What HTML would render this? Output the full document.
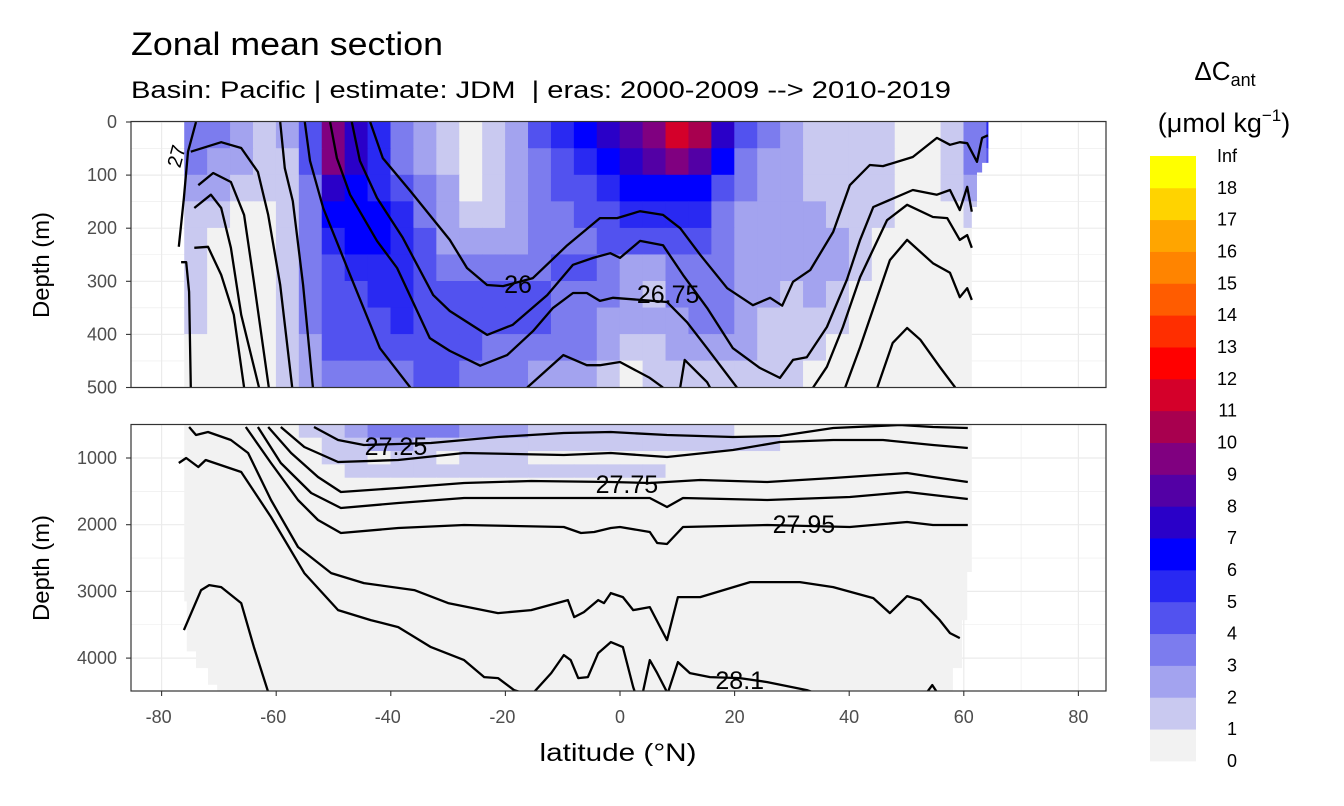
<!DOCTYPE html>
<html><head><meta charset="utf-8"><style>
html,body{margin:0;padding:0;background:#fff;}
svg{display:block;font-family:"Liberation Sans",Arial,sans-serif;}
</style></head><body>
<svg id="chart" width="1344" height="806" viewBox="0 0 1344 806" xmlns="http://www.w3.org/2000/svg">
<defs>
<clipPath id="clipTopPanel"><rect x="131" y="121.5" width="975" height="266"/></clipPath>
<clipPath id="clipBotPanel"><rect x="131" y="424.5" width="975" height="266.5"/></clipPath>
<clipPath id="clipTopData"><polygon id="maskTop"/></clipPath>
<clipPath id="clipBotData"><polygon id="maskBot"/></clipPath>
</defs>
<text x="131" y="55" font-size="32" textLength="312" lengthAdjust="spacingAndGlyphs" fill="#000">Zonal mean section</text>
<text x="131" y="98" font-size="24" textLength="820" lengthAdjust="spacingAndGlyphs" fill="#000">Basin: Pacific | estimate: JDM&#160; | eras: 2000-2009 --&gt; 2010-2019</text>
<g id="topPanel"></g>
<g id="botPanel"></g>
<g id="axes"></g>
<text x="618" y="761" font-size="25" textLength="157" lengthAdjust="spacingAndGlyphs" text-anchor="middle" fill="#000">latitude (°N)</text>
<text transform="translate(49,265) rotate(-90)" font-size="23" textLength="106" lengthAdjust="spacingAndGlyphs" text-anchor="middle" fill="#000">Depth (m)</text>
<text transform="translate(49,568) rotate(-90)" font-size="23" textLength="106" lengthAdjust="spacingAndGlyphs" text-anchor="middle" fill="#000">Depth (m)</text>
<g id="legend">
<text x="1225" y="80" font-size="26" text-anchor="middle">ΔC<tspan font-size="18" dy="6">ant</tspan></text>
<text x="1224" y="132" font-size="27" text-anchor="middle">(μmol kg<tspan font-size="17" dy="-11">−1</tspan><tspan dy="11">)</tspan></text>
</g>
</svg>
<script>
const NS="http://www.w3.org/2000/svg";
const latCols=[-76,-72,-68,-64,-60,-56,-52,-48,-44,-40,-36,-32,-28,-24,-20,-16,-12,-8,-4,0,4,8,12,16,20,24,28,32,36,40,44,48,52,56,60,64];
const topRowEdges=[0,50,100,150,200,250,300,350,400,450,500];
const valuesTop=[
[3,3,2,1,2,4,9,7,5,3,2,1,0,1,2,4,5,6,7,8,9,11,10,7,4,3,2,1,1,1,1,0,0,1,3,5],
[3,2,2,1,1,4,9,7,5,3,2,1,0,1,2,3,4,5,6,7,8,9,8,6,3,2,2,1,1,1,1,0,0,1,3,4],
[2,2,1,1,1,3,7,6,5,4,3,2,0,1,2,3,4,4,5,6,6,6,6,4,3,2,2,1,1,1,1,0,0,1,2,3],
[1,1,0,0,1,3,6,6,6,5,3,2,1,1,2,3,3,4,4,5,5,5,5,3,2,2,2,2,1,1,1,0,0,0,1,0],
[1,0,0,0,1,3,5,6,6,5,4,2,2,2,2,3,3,3,4,4,4,4,4,3,2,2,2,2,2,1,0,0,0,0,0,0],
[1,0,0,0,1,3,4,5,5,5,4,3,3,3,3,3,4,4,3,2,2,3,3,3,2,2,2,2,2,1,0,0,0,0,0,0],
[1,0,0,0,1,3,4,4,5,5,4,4,4,4,4,4,3,3,3,2,1,3,3,3,2,2,1,2,1,0,0,0,0,0,0,0],
[1,0,0,0,1,3,4,4,4,5,4,4,4,4,4,4,3,3,2,2,2,2,3,3,2,1,1,1,1,0,0,0,0,0,0,0],
[0,0,0,0,1,2,4,4,4,4,4,4,4,3,3,3,3,3,2,1,1,2,2,2,2,1,1,1,0,0,0,0,0,0,0,0],
[0,0,0,0,1,2,3,3,3,3,4,4,3,3,3,2,2,2,1,0,1,1,1,1,1,1,1,0,0,0,0,0,0,0,0,0]];
const botRowEdges=[500,700,900,1100,1300,1500,4500];
const valuesBot=[
[0,0,0,0,0,1,1,2,3,3,3,3,2,2,2,1,1,1,1,1,1,1,1,1,0,0,0,0,0,0,0,0,0,0,0,0],
[0,0,0,0,0,0,1,1,2,2,1,1,1,1,1,1,1,1,1,1,1,1,1,1,1,1,0,0,0,0,0,0,0,0,0,0],
[0,0,0,0,0,0,1,1,0,1,1,0,1,1,1,0,0,0,0,0,0,0,0,0,0,0,0,0,0,0,0,0,0,0,0,0],
[0,0,0,0,0,0,0,1,1,1,1,1,1,1,1,1,1,1,1,1,1,0,0,0,0,0,0,0,0,0,0,0,0,0,0,0],
[0,0,0,0,0,0,0,0,0,0,0,0,0,0,0,0,0,0,0,0,0,0,0,0,0,0,0,0,0,0,0,0,0,0,0,0],
[0,0,0,0,0,0,0,0,0,0,0,0,0,0,0,0,0,0,0,0,0,0,0,0,0,0,0,0,0,0,0,0,0,0,0,0]];
const topMaskPts=[[-76.5,0],[64.3,0],[64.3,77],[63.2,77],[63.2,95],[62.3,95],[62.3,160],[61.4,160],[61.4,500],[-76.5,500]];
const botMaskPts=[[-76.8,500],[61.4,500],[61.4,2710],[60.6,2710],[60.6,3430],[59.7,3430],[59.7,4150],[58.1,4150],[58.1,4500],[-70.3,4500],[-70.3,4400],[-71.9,4400],[-71.9,4150],[-74,4150],[-74,3900],[-75.6,3900],[-75.6,3150],[-76.8,3150]];
const binColors=["#F2F2F2","#C9C9F0","#A3A3EF","#7C7CEE","#5252EF","#2929F2","#0000FF","#2A00C8","#5300A5","#800080","#A8004F","#D4002A","#FF0000","#FF2E00","#FF5C00","#FF8400","#FFA500","#FFD300","#FFFF00"];
const legendLabels=["0","1","2","3","4","5","6","7","8","9","10","11","12","13","14","15","16","17","18","Inf"];
const xTicks=[-80,-60,-40,-20,0,20,40,60,80];
const yTicksTop=[0,100,200,300,400,500];
const yTicksBot=[1000,2000,3000,4000];
const contoursTop=[
[[-74.9,56],[-69.6,38],[-66.1,49],[-63.2,94],[-61.4,175],[-59.3,307],[-57.2,500]],
[[-73.6,119],[-71,96],[-67.9,113],[-65.6,175],[-63.9,301],[-61.3,500]],
[[-74.3,162],[-71.4,137],[-69.6,162],[-67.9,237],[-66.1,363],[-63,500]],
[[-74.3,237],[-71.9,235],[-69.6,288],[-67.4,363],[-65.6,500]],
[[-76.6,264],[-75.7,264],[-75.2,320],[-74.9,500]],
[[-77,235],[-76.1,143],[-75.4,56],[-74,0]],
[[-59.3,0],[-58.5,87],[-57.1,149],[-55.3,307],[-53.6,500]],
[[-55,0],[-54.1,73],[-51.8,162],[-47.1,288],[-41.9,426],[-36.6,500]],
[[-50.6,0],[-49.4,68],[-47.1,137],[-42.4,224],[-38.9,275],[-33.2,407],[-29.7,431],[-24.4,459],[-19.7,439],[-15.2,394],[-11.7,350],[-8.2,322],[-5.8,322],[-3.5,337],[-1.2,331],[3.5,335],[8.2,339],[11.7,377],[15.2,426],[19.7,490],[20.4,500]],
[[-46.8,0],[-45.4,73],[-42.4,143],[-37.9,218],[-32.6,326],[-29.7,356],[-23.2,401],[-18.7,382],[-12.7,326],[-8.2,269],[-4.7,256],[-1.7,247],[0,256],[3.5,224],[7.5,232],[11,288],[15.2,350],[19.7,426],[24.4,463],[27.9,482],[30.2,448],[32.6,443],[36.1,386],[39.6,297],[41.9,222],[44.2,160],[51.1,128],[55.3,137],[57.6,128],[59.3,166],[60.6,122],[61.4,169]],
[[-43.6,0],[-41.4,68],[-36.6,130],[-29.7,222],[-26.7,275],[-23.2,307],[-20.4,309],[-15.2,294],[-9.2,232],[-3.5,181],[-0.5,181],[3.5,168],[7.5,175],[10.5,200],[14,250],[18.7,313],[23.2,345],[26.2,331],[28.3,346],[30.2,301],[33.2,279],[37.2,207],[40.1,119],[43.6,81],[45.9,83],[51.1,66],[55.3,30],[57.6,43],[59.3,38],[60.6,40],[62.3,75],[63.2,30],[64.2,25]],
[[-16.2,500],[-9.9,439],[-5.8,458],[-3.5,458],[0,452],[5.2,482],[7.5,500]],
[[10.5,500],[11.3,448],[15.2,490],[15.7,500]],
[[33.7,500],[36.1,461],[38.9,386],[41.9,292],[46.6,185],[50.1,156],[54.6,179],[57.1,181],[59.3,222],[60.6,213],[61.4,237]],
[[39.3,500],[41.9,424],[47.1,260],[50.1,222],[54.6,266],[57.6,284],[59.3,330],[60.6,313],[61.4,335]],
[[44.9,500],[47.6,416],[50.1,388],[52.4,410],[55.8,461],[58.5,500]]];
const contoursBot=[
[[-53.4,535],[-49.2,730],[-44.7,805],[-33,775],[-21.3,685],[-9.8,625],[-1.6,610],[8.2,655],[19.7,685],[27.9,670],[37.2,550],[48.9,505],[54.6,535],[60.7,550]],
[[-59.2,535],[-55.1,835],[-49.2,1060],[-38.7,1030],[-27.2,925],[-9.8,955],[-1.6,925],[8.2,985],[19.7,880],[27.9,760],[37.2,730],[45.9,730],[54.6,805],[60.7,850]],
[[-61.4,535],[-57.4,925],[-52.7,1285],[-48.7,1510],[-38.7,1450],[-27.2,1375],[-15.5,1345],[-1.6,1360],[5.2,1375],[14,1330],[25.7,1360],[37.2,1300],[50.1,1225],[54.6,1285],[60.7,1360]],
[[-63.2,535],[-59.2,1075],[-53.9,1525],[-48.7,1750],[-38.7,1675],[-27.2,1600],[-1.6,1600],[5.2,1600],[8.2,1735],[11,1600],[25.7,1630],[40.1,1585],[50.1,1510],[54.6,1555],[60.7,1615]],
[[-65.3,535],[-60.9,1075],[-56.2,1630],[-52.7,1930],[-48.7,2125],[-38.7,2050],[-27.2,2005],[-9.8,2035],[-6.8,2125],[-4.5,2110],[-1.6,2050],[0,2035],[5.2,2110],[6.5,2275],[8.2,2290],[11,2035],[25.7,2005],[40.1,2035],[50.1,1960],[54.6,2005],[60.7,2005]],
[[-75.2,535],[-74,655],[-71.9,610],[-67.9,730],[-64.9,925],[-60.9,1630],[-56.2,2335],[-50.4,2725],[-44.7,2875],[-35.9,2980],[-30,3175],[-21.3,3325],[-15.5,3280],[-9.1,3130],[-8,3385],[-6.3,3310],[-3.8,3130],[-2.8,3175],[-1.6,3025],[0.5,3085],[2.3,3280],[5.2,3235],[8.2,3730],[10.1,3085],[14,3085],[22.7,2860],[31.4,2860],[37.2,2935],[44.2,3100],[47.1,3325],[50.1,3070],[52.4,3130],[55.8,3430],[57.6,3625],[59.3,3700]],
[[-77,1075],[-75.7,1000],[-73.6,1135],[-72.3,1030],[-66.1,1210],[-60.9,1885],[-55.1,2725],[-49.2,3280],[-43.5,3430],[-38.7,3535],[-33,3835],[-27.2,4030],[-23.7,4285],[-21.3,4300],[-18.5,4480],[-17,4520]],
[[-15,4510],[-12,4225],[-9.8,3955],[-8.6,4030],[-7.3,4300],[-5.6,4285],[-3.8,3925],[-1.6,3760],[0.5,3835],[2.3,4435],[2.6,4510]],
[[4,4510],[5.2,4030],[6.5,4225],[8.2,4510]],
[[8.4,4510],[10.1,4060],[12.2,4225],[15.7,4285],[20.9,4300],[25.7,4360],[32.6,4480],[34,4520]],
[[-76.1,3580],[-73.1,2980],[-71.7,2905],[-69.6,2935],[-66.1,3175],[-63.9,3835],[-61.4,4510]],
[[53.6,4510],[54.5,4405],[55.3,4510]]];
const labelsTop=[["26",-17.8,305],["26.75",8.4,324]];
const labelsBot=[["27.25",-39.1,820],["27.75",1.2,1390],["27.95",32.1,1990],["28.1",20.9,4330]];

const X=lat=>620+lat*5.73;
const YT=d=>122+d*0.531;
const YB=d=>458+(d-1000)*0.0667;
function mk(tag,attrs,parent){const e=document.createElementNS(NS,tag);for(const k in attrs)e.setAttribute(k,attrs[k]);parent.appendChild(e);return e;}
function binColor(v){let i=Math.floor(v);if(i<0)i=0;if(i>18)i=18;return binColors[i];}

function drawGrid(g,Y,yMajor,yMinor){
  for(let lat=-70;lat<=70;lat+=20){const l=mk('line',{x1:X(lat),x2:X(lat),y1:Y.top,y2:Y.bot,stroke:'#EBEBEB','stroke-width':0.6},g);
    }
  yMinor.forEach(d=>{const l=mk('line',{x1:131,x2:1106,y1:Y.f(d),y2:Y.f(d),stroke:'#EBEBEB','stroke-width':0.6},g);
    });
  xTicks.forEach(lat=>{const l=mk('line',{x1:X(lat),x2:X(lat),y1:Y.top,y2:Y.bot,stroke:'#EBEBEB','stroke-width':1.2},g);
    });
  yMajor.forEach(d=>{const l=mk('line',{x1:131,x2:1106,y1:Y.f(d),y2:Y.f(d),stroke:'#EBEBEB','stroke-width':1.2},g);
    });
}
function drawPanel(g,clipPanel,clipData,maskId,maskPts,Yf,rowEdges,values,contours,labels,top,bot,yMajor,yMinor,name){
  mk('rect',{x:131,y:top,width:975,height:bot-top,fill:'#fff'},g);
  drawGrid(g,{top:top,bot:bot,f:Yf},yMajor,yMinor);
  document.getElementById(maskId).setAttribute('points',maskPts.map(p=>X(p[0])+','+Yf(p[1])).join(' '));
  const hg=mk('g',{'clip-path':'url(#'+clipData+')'},g);
  
  
  for(let r=0;r<values.length;r++){
    for(let c=0;c<latCols.length;c++){
      const v=values[r][c];if(v===null)continue;
      const x0=X(latCols[c]),x1=X(latCols[c]+4),y0=Yf(rowEdges[r]),y1=Yf(rowEdges[r+1]);
      const cell=mk('rect',{x:x0-0.3,y:y0-0.3,width:x1-x0+0.6,height:y1-y0+0.6,fill:binColor(v)},hg);
      
      
    }
  }
  const cg=mk('g',{'clip-path':'url(#'+clipPanel+')'},g);
  contours.forEach(pts=>{
    const p=mk('polyline',{points:pts.map(q=>X(q[0]).toFixed(1)+','+Yf(q[1]).toFixed(1)).join(' '),fill:'none',stroke:'#000','stroke-width':2.3,'stroke-linejoin':'round'},cg);
    
    
  });
  labels.forEach(l=>{
    const t=mk('text',{x:X(l[1]),y:Yf(l[2])+9,'font-size':25,'text-anchor':'middle',fill:'#000'},cg);
    t.textContent=l[0];
    
    
  });
  const b=mk('rect',{x:131,y:top,width:975,height:bot-top,fill:'none',stroke:'#333','stroke-width':1.2},g);
  
  
}
drawPanel(document.getElementById('topPanel'),'clipTopPanel','clipTopData','maskTop',topMaskPts,YT,topRowEdges,valuesTop,contoursTop,labelsTop,121.5,387.5,[0,100,200,300,400,500],[50,150,250,350,450],'upper-panel');
drawPanel(document.getElementById('botPanel'),'clipBotPanel','clipBotData','maskBot',botMaskPts,YB,botRowEdges,valuesBot,contoursBot,labelsBot,424.5,691,[1000,2000,3000,4000],[1500,2500,3500],'lower-panel');

(function(){const t=mk('text',{transform:'translate(183,158) rotate(-75)','font-size':20,'text-anchor':'middle',fill:'#000'},document.getElementById('topPanel'));
t.textContent='27';

})();

const ax=document.getElementById('axes');
yTicksTop.forEach(d=>{
  mk('line',{x1:126,x2:131,y1:YT(d),y2:YT(d),stroke:'#333','stroke-width':1.1},ax);
  const t=mk('text',{x:117,y:YT(d)+6,'font-size':18,'text-anchor':'end',fill:'#4D4D4D'},ax);
  t.textContent=d;
  
  
});
yTicksBot.forEach(d=>{
  mk('line',{x1:126,x2:131,y1:YB(d),y2:YB(d),stroke:'#333','stroke-width':1.1},ax);
  const t=mk('text',{x:117,y:YB(d)+6,'font-size':18,'text-anchor':'end',fill:'#4D4D4D'},ax);
  t.textContent=d;
  
  
});
xTicks.forEach(lat=>{
  mk('line',{x1:X(lat),x2:X(lat),y1:691,y2:696,stroke:'#333','stroke-width':1.1},ax);
  const t=mk('text',{x:X(lat)-(lat<0?3:0),y:723,'font-size':18,'text-anchor':'middle',fill:'#4D4D4D'},ax);
  t.textContent=lat;
  
  
});

const lg=document.getElementById('legend');
const barTop=156,barBot=761,binH=(barBot-barTop)/binColors.length;
binColors.forEach((c,i)=>{
  const r=mk('rect',{x:1150,y:barBot-(i+1)*binH,width:46,height:binH+0.4,fill:c},lg);
  
  
});
legendLabels.forEach((s,i)=>{
  const t=mk('text',{x:1237,y:barBot-i*binH+6,'font-size':18,'text-anchor':'end',fill:'#000'},lg);
  t.textContent=s;
  
  
});
</script>
</body></html>
